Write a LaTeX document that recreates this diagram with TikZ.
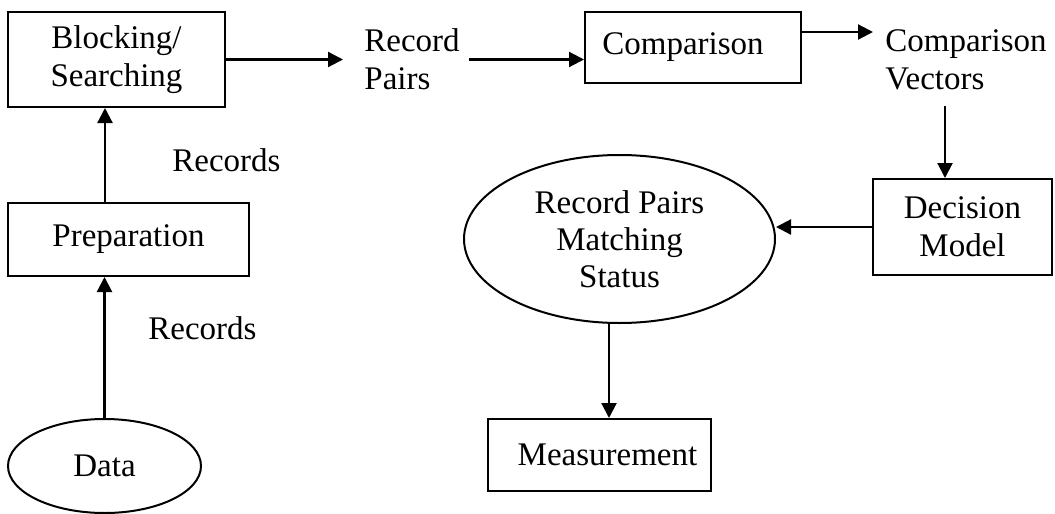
\documentclass[tikz,border=0pt]{standalone}
\usepackage{fontspec}
\setmainfont{Liberation Serif}
\usetikzlibrary{arrows.meta,shapes.geometric}

\tikzset{
  flowbox/.style={draw, line width=1pt, rectangle, inner sep=0pt, align=center,
                  font=\fontsize{16.5}{19}\selectfont},
  store/.style={draw, line width=1pt, ellipse, inner sep=0pt, align=center,
                font=\fontsize{16.5}{18.5}\selectfont},
  tag/.style={inner sep=0pt, align=left, font=\fontsize{16.5}{19}\selectfont},
  flow/.style={line width=1.1pt, -{Triangle[length=7.5pt,width=7.5pt]}}
}

\begin{document}
\begin{tikzpicture}[x=0.5pt, y=-0.5pt]
  \useasboundingbox (0,0) rectangle (1055,514);

  % processing steps
  \node[flowbox, minimum width=108.5pt, minimum height=47.5pt] (block) at (116.5,59.5) {Blocking/\\Searching};
  \node[flowbox, minimum width=120.5pt, minimum height=36.5pt] (prep) at (128.5,239.5) {Preparation};
  \node[flowbox, minimum width=108pt, minimum height=35.5pt] (comp) at (693,47.5) {Comparison\hspace{10pt}};
  \node[flowbox, minimum width=89.5pt, minimum height=48pt] (dec) at (962.5,227) {Decision\\Model};
  \node[flowbox, minimum width=111.5pt, minimum height=36pt] (meas) at (599.5,455) {\hspace{8pt}Measurement};

  % data stores
  \node[store, minimum width=96.5pt, minimum height=47pt] (data) at (104.5,466) {Data};
  \node[store, minimum width=155.5pt, minimum height=84pt] (status) at (619.5,239)
    {\raisebox{-4pt}{\parbox{88pt}{\centering\fontsize{16.5}{18.5}\selectfont Record Pairs\\Matching\\Status}}};

  % intermediate products
  \node[tag, anchor=west] (pairs) at (364,59) {Record\\Pairs};
  \node[tag, anchor=west] (vectors) at (885,60) {Comparison\\Vectors};
  \node[tag, anchor=west] (recA) at (172,160) {Records};
  \node[tag, anchor=west] (recB) at (148,328) {Records};

  % flow of records
  \draw[flow] (data.north) -- (data.north |- prep.south);
  \draw[flow] ([xshift=-11.75pt]prep.north) -- ([xshift=-11.75pt]prep.north |- block.south);
  \draw[flow, shorten >=10.5pt] (block.east) -- (block.east -| pairs.west);
  \draw[flow] ([xshift=4.5pt]pairs.east |- block.east) -- (comp.west |- block.east);
  \draw[flow, shorten >=6pt] ([yshift=7.75pt]comp.east) -- ([yshift=7.75pt]comp.east -| vectors.west);
  \draw[flow] ([xshift=-8.75pt,yshift=36pt]dec.north) -- ([xshift=-8.75pt]dec.north);
  \draw[flow] (dec.west) -- (status.east |- dec.west);
  \draw[flow] ([xshift=-5.25pt]status.south) -- ([xshift=-5.25pt]status.south |- meas.north);
\end{tikzpicture}
\end{document}
